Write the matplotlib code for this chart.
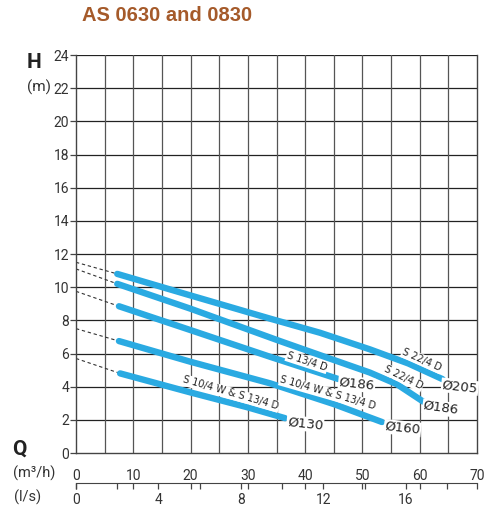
import matplotlib
matplotlib.use("Agg")
import matplotlib.pyplot as plt

plt.rcParams["font.family"] = ["Roboto", "DejaVu Sans"]

TITLE = "AS 0630 and 0830"
BLUE = "#2AAAE2"

# pump curves: Q in m3/h, H in m
q_205 = [7.2, 20, 33.9, 42.6, 51.3, 58, 64.0]
h_205 = [10.8, 9.5, 8.1, 7.25, 6.25, 5.4, 4.45]
q_186b = [7.2, 20, 35.6, 42.6, 51.3, 56, 60.6]
h_186b = [10.2, 8.7, 6.75, 5.9, 4.85, 4.15, 3.1]
q_186a = [7.5, 20, 33.9, 45.8]
h_186a = [8.85, 7.41, 5.8, 4.46]
q_160 = [7.5, 20, 33.9, 45, 53.4]
h_160 = [6.75, 5.5, 4.2, 2.95, 1.87]
q_130 = [7.7, 20, 30, 36.5]
h_130 = [4.8, 3.65, 2.75, 2.1]

# shut-off head of the dashed extension to Q = 0
h0 = [11.5, 11.1, 9.75, 7.5, 5.7]

curves = [(q_205, h_205), (q_186b, h_186b), (q_186a, h_186a), (q_160, h_160), (q_130, h_130)]

fig = plt.figure(figsize=(4.91, 5.11), dpi=100)
L, W = 76 / 491, 401 / 491
ax = fig.add_axes([L, 58 / 511, W, 398 / 511])

ax.set_xlim(0, 70)
ax.set_ylim(0, 24)
for y in range(2, 25, 2):
    ax.axhline(y, color="#222222", lw=0.9, zorder=1)
for x in range(5, 70, 5):
    ax.axvline(x, color="#555555", lw=0.9, zorder=1)
ax.spines["top"].set_visible(False)
for s in ["left", "right", "bottom"]:
    ax.spines[s].set_color("#444444")
    ax.spines[s].set_linewidth(1.0)
ax.set_xticks([])
ax.set_yticks(range(0, 25, 2))
ax.tick_params(axis="y", length=4, width=0.9, color="#444444", pad=1,
               labelsize=10, labelcolor="#333333")

for (q, h), z in zip(curves, h0):
    ax.plot([0, q[0]], [z, h[0]], ls=(0, (3, 2.5)), color="#333333", lw=0.8, zorder=2)
    ax.plot(q, h, color=BLUE, lw=4.6, solid_capstyle="round", solid_joinstyle="round", zorder=3)

box = dict(facecolor="white", edgecolor="none", pad=0.6)
small = dict(fontsize=7, color="#222222", ha="center", va="center", family="DejaVu Sans",
             bbox=box, zorder=4, rotation_mode="anchor")
big = dict(fontsize=9.5, color="#222222", ha="center", va="center", family="DejaVu Sans",
           bbox=box, zorder=4, rotation_mode="anchor")

ax.text(60.4, 5.6, "S 22/4 D", rotation=-24, **small)
ax.text(67.0, 4.0, "Ø205", rotation=-6, **big)
ax.text(57.1, 4.55, "S 22/4 D", rotation=-26, **small)
ax.text(63.7, 2.7, "Ø186", rotation=-8, **big)
ax.text(40.3, 5.5, "S 13/4 D", rotation=-18, **small)
ax.text(49.0, 4.15, "Ø186", rotation=-6, **big)
ax.text(44.0, 3.6, "S 10/4 W & S 13/4 D", rotation=-16, **small)
ax.text(57.0, 1.5, "Ø160", rotation=-6, **big)
ax.text(27.0, 3.6, "S 10/4 W & S 13/4 D", rotation=-16, **small)
ax.text(40.0, 1.75, "Ø130", rotation=-6, **big)

# flow scale below the chart: m3/h above the line, l/s below
ax2 = fig.add_axes([L, (511 - 483) / 511, W, 0.0001])
ax2.set_xlim(0, 70)
ax2.set_yticks([])
for s in ["left", "right", "top"]:
    ax2.spines[s].set_visible(False)
ax2.spines["bottom"].set_color("#444444")
ax2.set_xticks(range(0, 71, 10))
ax2.tick_params(axis="x", bottom=True, top=False, labelbottom=False, labeltop=True,
                length=4, width=0.9, color="#444444", direction="out", pad=-4,
                labelsize=10, labelcolor="#333333")
sec = ax2.secondary_xaxis("bottom", functions=(lambda q: q / 3.6, lambda l: l * 3.6))
sec.spines["bottom"].set_visible(False)
sec.set_xticks(range(0, 17, 4))
sec.set_xticks(range(2, 20, 4), minor=True)
sec.tick_params(axis="x", which="both", length=4, width=0.9, color="#444444", pad=3,
                labelsize=10, labelcolor="#333333")

fig.text(0.341, 0.969, TITLE, fontsize=14.5, color="#A55A2A", fontweight="bold",
         family="Liberation Sans", ha="center", va="center")
fig.text(34 / 491, 1 - 62 / 511, "H", fontsize=15, fontweight="bold", color="#222222",
         ha="center", va="center")
fig.text(39 / 491, 1 - 87 / 511, "(m)", fontsize=11, color="#333333", ha="center", va="center")
fig.text(19 / 491, 1 - 449 / 511, "Q", fontsize=15, fontweight="bold", color="#222222",
         ha="center", va="center")
fig.text(34 / 491, 1 - 473 / 511, "(m³/h)", fontsize=10.5, color="#333333", ha="center", va="center")
fig.text(28 / 491, 1 - 497 / 511, "(l/s)", fontsize=10.5, color="#333333", ha="center", va="center")

fig.savefig("out.png", dpi=100)
